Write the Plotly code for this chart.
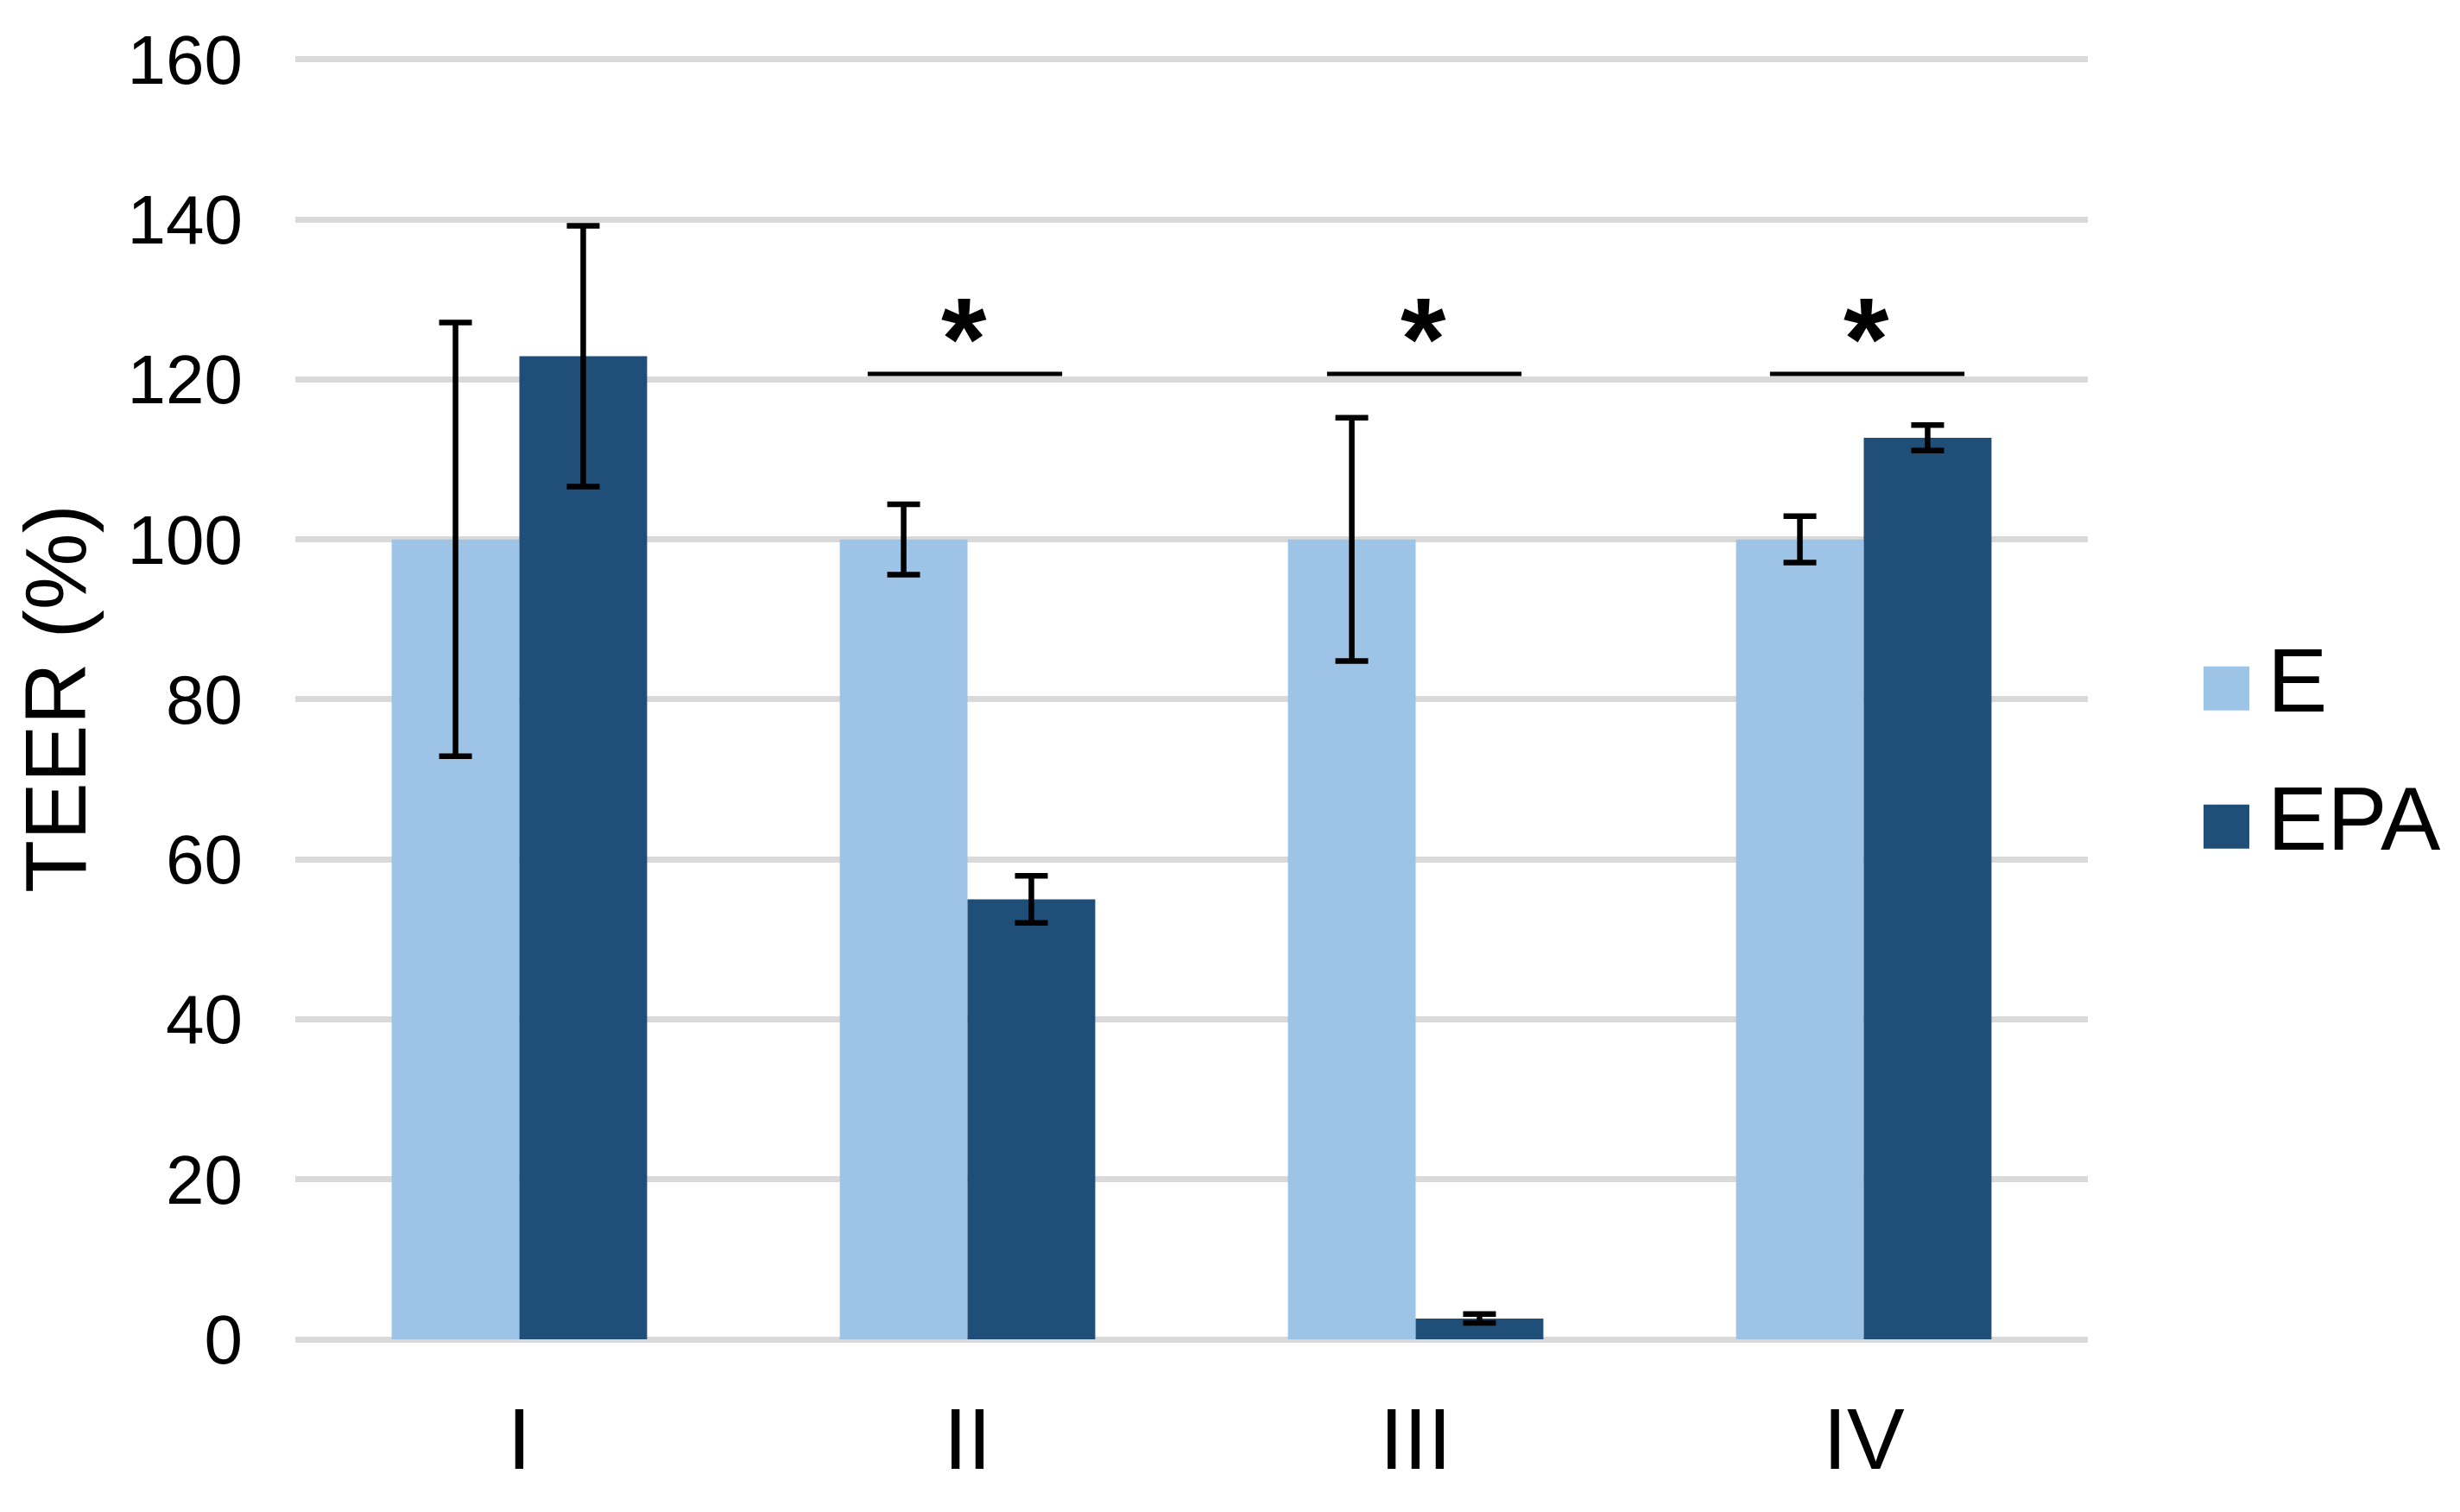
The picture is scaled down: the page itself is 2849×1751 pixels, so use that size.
import plotly.graph_objects as go

# ---- data ----
categories = ["I", "II", "III", "IV"]
series_names = ["E", "EPA"]
e_values = [100, 100, 100, 100]
e_errors = [27.1, 4.4, 15.2, 2.9]
epa_values = [122.9, 55.0, 2.6, 112.7]
epa_errors = [16.3, 2.95, 0.55, 1.6]
significant = ["II", "III", "IV"]
sig_line_level = 120.7
y_ticks = [0, 20, 40, 60, 80, 100, 120, 140, 160]
y_title = "TEER (%)"

# ---- style / layout (page pixel geometry) ----
colors = ["#9DC3E6", "#1F4E79"]
FONT = "Liberation Sans, Arial, sans-serif"
BODY = 8                      # default page body margin
W, H = 2849 - BODY, 1751 - BODY
Y_TOP = 160.2
PX_PER_UNIT = 9.266
PLOT_L, PLOT_R, PLOT_B = 342, 2418, 1551.5          # page coords
PLOT_T = PLOT_B - Y_TOP * PX_PER_UNIT
ML = PLOT_L - BODY
MR = (W + BODY) - PLOT_R
MT = PLOT_T - BODY
MB = (H + BODY) - PLOT_B
plot_w = PLOT_R - PLOT_L
plot_h = PLOT_B - PLOT_T
SIG_OFFSET_PX = {"II": -3, "III": 10, "IV": 4}   # small hand placement offsets
SIG_HALF = 0.217
cat_px = plot_w / len(categories)


def px_x(px):
    return (px - PLOT_L) / plot_w


def px_y(py):
    return (PLOT_B - py) / plot_h


fig = go.Figure()
for name, vals, errs, col in [
    (series_names[0], e_values, e_errors, colors[0]),
    (series_names[1], epa_values, epa_errors, colors[1]),
]:
    fig.add_trace(go.Bar(
        x=categories, y=vals, name=name,
        marker=dict(color=col, line=dict(width=0)),
        error_y=dict(type="data", array=errs, visible=True,
                     color="black", thickness=6.5, width=19),
        showlegend=False,
    ))

# significance lines + asterisks
for cat in significant:
    i = categories.index(cat)
    off = SIG_OFFSET_PX[cat] / cat_px
    fig.add_shape(type="line", xref="x", yref="y",
                  x0=i + off - SIG_HALF, x1=i + off + SIG_HALF,
                  y0=sig_line_level, y1=sig_line_level,
                  line=dict(color="black", width=5))
    fig.add_annotation(x=cat, y=sig_line_level, xref="x", yref="y",
                       text="<b>*</b>", showarrow=False,
                       xanchor="center", yanchor="bottom", yshift=-37,
                       xshift=SIG_OFFSET_PX[cat] - 1,
                       font=dict(family=FONT, size=135, color="black"))

# custom legend (large swatches)
for k, (name, col) in enumerate(zip(series_names, colors)):
    top = 772 + k * 160
    fig.add_shape(type="rect", xref="paper", yref="paper",
                  x0=px_x(2552), x1=px_x(2605), y0=px_y(top + 51), y1=px_y(top),
                  fillcolor=col, line=dict(width=0))
    fig.add_annotation(x=px_x(2624), y=px_y(top + 25.5), xref="paper", yref="paper",
                       text=name, showarrow=False, xanchor="left", yanchor="middle",
                       yshift=9,
                       font=dict(family=FONT, size=104, color="black"))

fig.update_layout(
    width=W, height=H,
    margin=dict(l=ML, r=MR, t=MT, b=MB, pad=0),
    paper_bgcolor="white", plot_bgcolor="white",
    barmode="group", bargap=0.43, bargroupgap=0,
    font=dict(family=FONT, color="black"),
    showlegend=False,
)
fig.update_xaxes(
    type="category", automargin=False,
    showgrid=False, showline=False, zeroline=False, ticks="",
    tickfont=dict(size=100, family=FONT, color="black"),
    ticklabelstandoff=49,
)
fig.update_yaxes(
    range=[0, Y_TOP], tickvals=y_ticks, automargin=False,
    showgrid=True, gridcolor="#D9D9D9", gridwidth=7,
    zeroline=True, zerolinecolor="#D9D9D9", zerolinewidth=7,
    showline=False, ticks="",
    tickfont=dict(size=80, family=FONT, color="black"),
    ticklabelstandoff=60,
    title=dict(text=y_title, font=dict(size=100, family=FONT, color="black"), standoff=27),
)

fig.write_html("out.html")
